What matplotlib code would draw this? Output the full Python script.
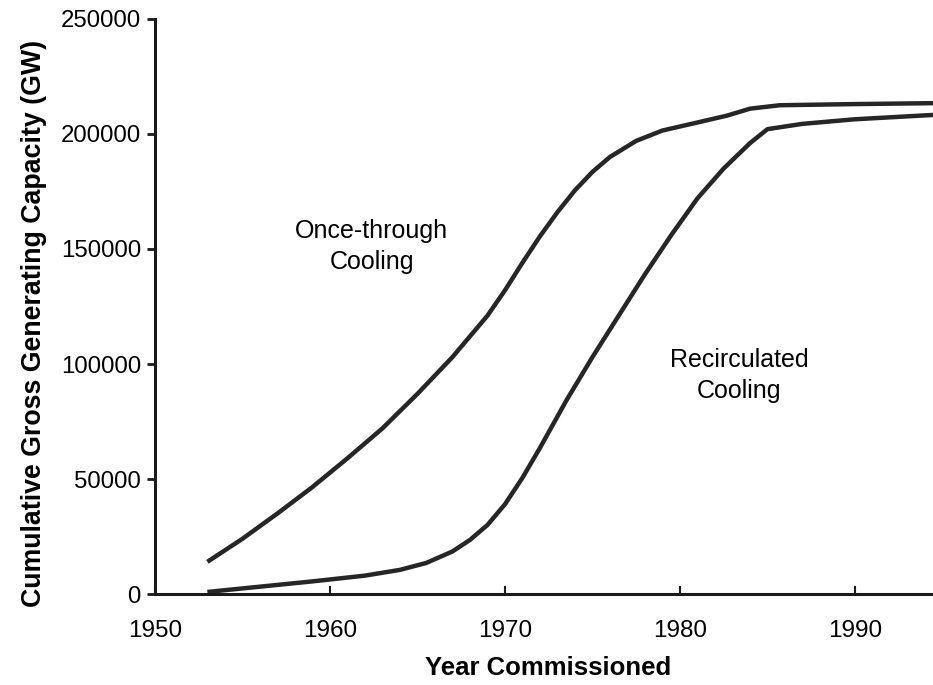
import matplotlib
matplotlib.use("Agg")
import matplotlib.pyplot as plt

plt.rcParams["font.family"] = ["Liberation Sans", "DejaVu Sans"]

# values (GW, cumulative)
once_years = [1953.0, 1955.0, 1957.0, 1959.0, 1961.0, 1963.0, 1965.0, 1967.0,
              1968.0, 1969.0, 1970.0, 1971.0, 1972.0, 1973.0, 1974.0, 1975.0,
              1976.0, 1977.5, 1979.0, 1981.0, 1982.7, 1984.0, 1985.7, 1990.0,
              1994.5]
once_gw = [14000, 24000, 35000, 46500, 59000, 72000, 87000, 103000,
           112000, 121000, 132000, 144000, 155500, 166000, 175500, 183500,
           190000, 197000, 201500, 205000, 208000, 211000, 212500, 213000,
           213400]

recirc_years = [1953.0, 1956.0, 1959.0, 1962.0, 1964.0, 1965.5, 1967.0, 1968.0,
                1969.0, 1970.0, 1971.0, 1972.0, 1973.5, 1975.0, 1976.5, 1978.0,
                1979.5, 1981.0, 1982.5, 1984.0, 1985.0, 1987.0, 1990.0, 1994.5]
recirc_gw = [900, 3200, 5500, 8000, 10500, 13500, 18500, 23500,
             30000, 39000, 50500, 63500, 84000, 103000, 121000, 139000,
             156000, 172000, 185000, 196000, 202100, 204400, 206400, 208300]

x_ticks = [1950, 1960, 1970, 1980, 1990]
y_ticks = [0, 50000, 100000, 150000, 200000, 250000]


def plot_chart():
    fig = plt.figure(figsize=(9.33, 6.85), dpi=100)
    ax = fig.add_axes([0.166, 0.1328, 0.834, 0.8395])

    line_kw = dict(color="#262626", linewidth=3.2, solid_joinstyle="round",
                   solid_capstyle="butt")
    ax.plot(once_years, once_gw, **line_kw)
    ax.plot(recirc_years, recirc_gw, **line_kw)

    ax.set_xlim(1950, 1994.46)
    ax.set_ylim(0, 250000)
    ax.set_xticks(x_ticks)
    ax.set_yticks(y_ticks)
    ax.set_yticklabels([str(v) for v in y_ticks])

    for side in ["top", "right"]:
        ax.spines[side].set_visible(False)
    for side in ["left", "bottom"]:
        ax.spines[side].set_linewidth(2.2)
        ax.spines[side].set_color("#1a1a1a")

    ax.tick_params(axis="y", direction="out", length=6, width=2,
                   labelsize=17.3, pad=4, color="#1a1a1a")
    ax.tick_params(axis="x", direction="in", length=6, width=1.5,
                   labelsize=17.5, pad=19, color="#1a1a1a")

    ax.set_ylabel("Cumulative Gross Generating Capacity (GW)",
                  fontsize=19.3, fontweight="bold")
    ax.yaxis.set_label_coords(-0.139, 0.471)
    ax.set_xlabel("Year Commissioned", fontsize=18.5, fontweight="bold")
    ax.xaxis.set_label_coords(0.505, -0.108)

    ax.text(1962.4, 151000, "Once-through\nCooling", ha="center", va="center",
            fontsize=18, linespacing=1.4)
    ax.text(1983.4, 95000, "Recirculated\nCooling", ha="center", va="center",
            fontsize=18, linespacing=1.4)

    fig.savefig("out.png", dpi=100)


def main():
    plot_chart()


if __name__ == "__main__":
    main()
